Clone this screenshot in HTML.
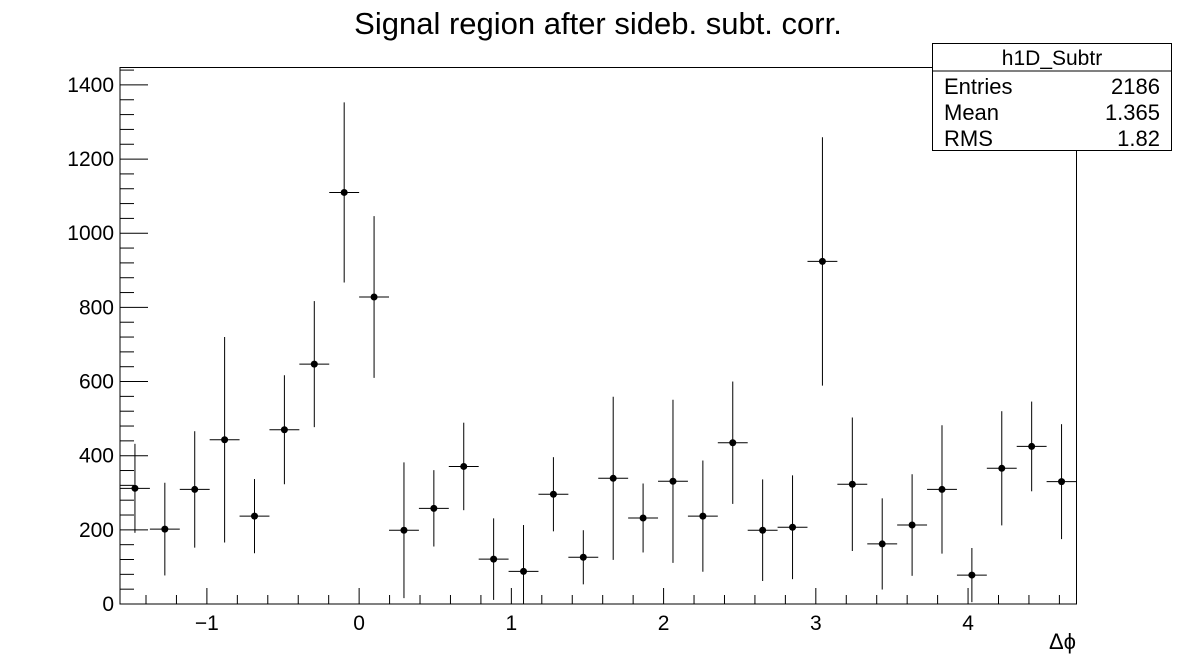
<!DOCTYPE html>
<html><head><meta charset="utf-8"><style>
html,body{margin:0;padding:0;background:#fff;}
svg{display:block;font-family:"Liberation Sans",Arial,sans-serif;}
</style></head><body>
<svg id="chart" width="1196" height="672" xmlns="http://www.w3.org/2000/svg">
<rect width="1196" height="672" fill="#fff"/>
<text x="598" y="34" font-size="31" text-anchor="middle">Signal region after sideb. subt. corr.</text>
<g id="axes"></g>
<g id="marks"></g>
<g>
<rect x="932.5" y="43.5" width="239" height="107" fill="#fff" stroke="#000" stroke-width="1"/>
<line x1="932.5" y1="71" x2="1171.5" y2="71" stroke="#000"/>
<text x="1052" y="65" font-size="21" text-anchor="middle">h1D_Subtr</text>
<text x="944" y="94" font-size="22">Entries</text>
<text x="1160" y="94" font-size="22" text-anchor="end">2186</text>
<text x="944" y="120" font-size="22">Mean</text>
<text x="1160" y="120" font-size="22" text-anchor="end">1.365</text>
<text x="944" y="146" font-size="22">RMS</text>
<text x="1160" y="146" font-size="22" text-anchor="end">1.82</text>
</g>
<text x="1076" y="649" font-size="22" text-anchor="end">Δϕ</text>
</svg>
<script>
const values = [312,202,309,443,237,470,647,1110,828,199,258,371,121,88,296,126,339,232,331,237,435,199,207,924,323,162,213,309,78,366,425,330];
const errors = [120,125,157,277,100,147,170,243,218,183,103,118,110,125,100,73,220,93,220,150,165,137,140,335,180,123,137,173,73,154,121,155];
const yTicks = [0,200,400,600,800,1000,1200,1400];
const xTicks = [-1,0,1,2,3,4];
const xMin = -Math.PI/2, xMax = 3*Math.PI/2, yMin = 0, yMax = 1447;
const L = 120, R = 1076.5, T = 67.5, B = 604;
const sx = v => L + (v - xMin) / (xMax - xMin) * (R - L);
const sy = v => B - (v - yMin) / (yMax - yMin) * (B - T);
const NS = "http://www.w3.org/2000/svg";
const axes = document.getElementById('axes');
const marks = document.getElementById('marks');
function mk(tag, attrs, parent) {
  const e = document.createElementNS(NS, tag);
  for (const k in attrs) e.setAttribute(k, attrs[k]);
  parent.appendChild(e);
  return e;
}
const frame = mk('rect', {x: L, y: T, width: R - L, height: B - T, fill: 'none', stroke: '#000', 'stroke-width': 1}, axes);


for (let v = 0; v <= yMax; v += 40) {
  const major = Math.abs(v % 200) < 1e-6;
  const t = mk('line', {x1: L, x2: L + (major ? 28 : 14), y1: sy(v), y2: sy(v), stroke: '#000'}, axes);
  
  
}
yTicks.forEach(v => {
  const t = mk('text', {x: L - 6, y: sy(v) + 7, 'font-size': 21, 'text-anchor': 'end'}, axes);
  t.textContent = String(v);
  
  
});
for (let i = -8; i <= 24; i++) {
  const v = i * 0.2;
  if (v < xMin || v > xMax) continue;
  const major = i % 5 === 0;
  const t = mk('line', {x1: sx(v), x2: sx(v), y1: B, y2: B - (major ? 16 : 9), stroke: '#000'}, axes);
  
  
}
xTicks.forEach(v => {
  const t = mk('text', {x: sx(v), y: B + 26, 'font-size': 21, 'text-anchor': 'middle'}, axes);
  t.textContent = v < 0 ? '\u2212' + Math.abs(v) : String(v);
  
  
});
const n = values.length, w = (xMax - xMin) / n;
values.forEach((v, i) => {
  const c = xMin + (i + 0.5) * w;
  const g = mk('g', {}, marks);
  
  
  const lo = Math.max(yMin, v - errors[i]), hi = Math.min(yMax, v + errors[i]);
  mk('line', {x1: sx(xMin + i * w), x2: sx(xMin + (i + 1) * w), y1: sy(v), y2: sy(v), stroke: '#000'}, g);
  mk('line', {x1: sx(c), x2: sx(c), y1: sy(lo), y2: sy(hi), stroke: '#000'}, g);
  mk('circle', {cx: sx(c), cy: sy(v), r: 3.5, fill: '#000'}, g);
});
</script>
</body></html>
